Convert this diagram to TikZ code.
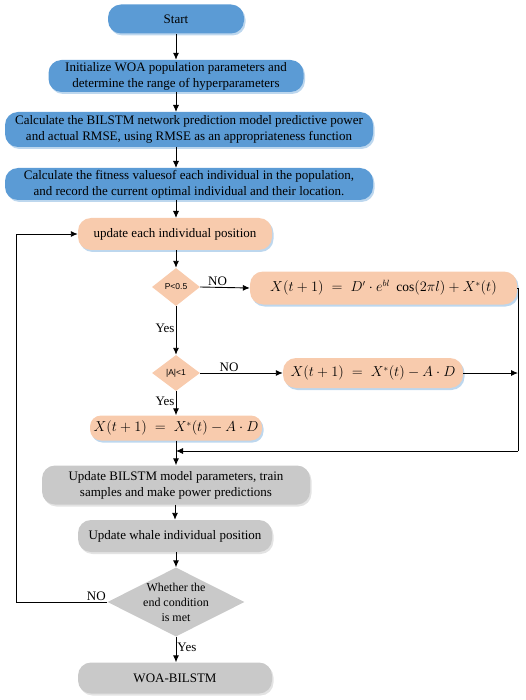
\documentclass[tikz,border=0pt]{standalone}
\usepackage{fontspec}
\setmainfont{Liberation Serif}
\setsansfont{Liberation Sans}
\usetikzlibrary{shapes.geometric,arrows.meta,shadows}
\definecolor{bluebox}{HTML}{5B9BD5}
\definecolor{blueshadow}{HTML}{BDD7EE}
\definecolor{peach}{HTML}{F8CBAD}
\definecolor{greybox}{HTML}{C9C9C9}
\definecolor{greyshadow}{HTML}{E3E3E3}
\begin{document}
\begin{tikzpicture}[x=1pt,y=-1pt,
  base/.style={rounded corners=13pt, inner sep=1pt, align=center, font=\fontsize{13}{16}\selectfont},
  bluebx/.style={base, fill=bluebox, drop shadow={fill=blueshadow, opacity=1, shadow xshift=1.5pt, shadow yshift=-2pt}},
  peachbx/.style={base, fill=peach, drop shadow={fill=blueshadow, opacity=1, shadow xshift=1.5pt, shadow yshift=-2pt}},
  greybx/.style={base, fill=greybox, drop shadow={fill=greyshadow, opacity=1, shadow xshift=1.5pt, shadow yshift=-2pt}},
  peachdia/.style={diamond, fill=peach, inner sep=0pt},
  greydia/.style={diamond, fill=greybox, inner sep=0pt},
  diatxt/.style={inner sep=0pt, align=center, font=\sffamily\fontsize{8.5}{10}\selectfont},
  enddtxt/.style={inner sep=0pt, align=center, font=\fontsize{12}{15}\selectfont},
  arr/.style={-{Latex[length=7pt,width=6pt]}, line width=0.9pt},
  ln/.style={line width=0.9pt},
  lbl/.style={font=\fontsize{13}{15}\selectfont, inner sep=1pt}
]
\useasboundingbox (0,0) rectangle (526,700);

\node[bluebx, minimum width=136, minimum height=29] (start) at (176,19) {Start};
\node[bluebx, minimum width=255, minimum height=32] (init) at (176,76) {Initialize WOA population parameters and\\determine the range of hyperparameters};
\node[bluebx, minimum width=368, minimum height=35] (calc) at (189,129.5) {Calculate the BILSTM network prediction model predictive power\\and actual RMSE, using RMSE as an appropriateness function};
\node[bluebx, minimum width=368, minimum height=32] (fit) at (189,184) {Calculate the fitness valuesof each individual in the population,\\and record the current optimal individual and their location.};
\node[peachbx, minimum width=194, minimum height=32] (upd) at (175,234) {update each individual position};
\node[peachdia, minimum width=48, minimum height=38] (p05) at (176,287) {};
\node[diatxt] (p05t) at (p05.center) {P<0.5};
\node[peachbx, minimum width=267, minimum height=33, font=\fontsize{13.5}{16}\selectfont] (f1) at (383.5,288) {$X(t+1) \;=\; D'\cdot e^{bl}\;\cos(2\pi l) + X^{*}(t)$};
\node[peachdia, minimum width=48, minimum height=36] (a1) at (176,373) {};
\node[diatxt] (a1t) at (a1.center) {|A|<1};
\node[peachbx, minimum width=180, minimum height=30, font=\fontsize{13.5}{16}\selectfont] (f2) at (373,373) {$X(t+1) \;=\; X^{*}(t) - A\cdot D$};
\node[peachbx, minimum width=172, minimum height=25, rounded corners=11pt, font=\fontsize{13.5}{16}\selectfont] (f3) at (176,428) {$X(t+1) \;=\; X^{*}(t) - A\cdot D$};
\node[greybx, minimum width=268, minimum height=39] (bil) at (176,485) {Update BILSTM model parameters, train\\samples and make power predictions};
\node[greybx, minimum width=194, minimum height=32] (whale) at (175,536) {Update whale individual position};
\node[greydia, minimum width=137, minimum height=69] (endd) at (176,602) {};
\node[enddtxt] (enddt) at (endd.center) {Whether the\\end condition\\is met};
\node[greybx, minimum width=194, minimum height=31] (woa) at (175,678) {WOA-BILSTM};

\coordinate (rtop) at (518,288);
\coordinate (rmid) at (518,373);
\coordinate (rbot) at (518,451);
\coordinate (merge) at (176,451);
\coordinate (lb) at (16,602);
\coordinate (lt) at (16,234);

\draw[arr] (start) -- (init);
\draw[arr] (176,92) -- (176,112);
\draw[arr] (176,147) -- (176,168);
\draw[arr] (176,200) -- (176,218);
\draw[arr] (upd.south -| p05) -- (p05.north);
\draw[arr] (p05.east) -- node[lbl, above, pos=0.35] {NO} (f1.west);
\draw[arr] (p05.south) -- node[lbl, left, pos=0.45] {Yes} (a1.north);
\draw[arr] (a1.east) -- node[lbl, above, pos=0.35] {NO} (f2.west);
\draw[arr] (a1.south) -- node[lbl, left, pos=0.4] {Yes} (f3.north);
\draw[ln] (f1.east) -- (rtop) -- (rbot);
\draw[arr] (f2.east) -- (rmid);
\draw[arr] (rbot) -- (merge);
\draw[arr] (f3.south) -- (bil.north);
\draw[arr] (bil.south -| whale.north) -- (whale.north);
\draw[arr] (whale.south -| endd) -- (endd.north);
\draw[arr] (endd.south) -- node[lbl, right, pos=0.4] {Yes} (woa.north -| endd);
\draw[arr] (endd.west) -- node[lbl, above, pos=0.12] {NO} (lb) -- (lt) -- (upd.west);
\end{tikzpicture}
\end{document}
